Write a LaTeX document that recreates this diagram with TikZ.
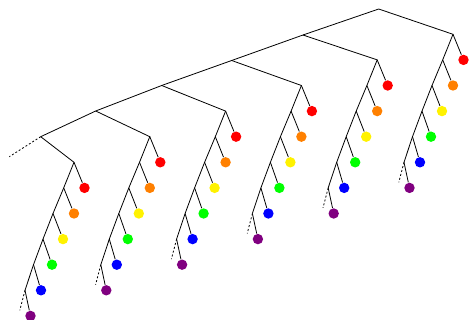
\documentclass[tikz,border=0pt]{standalone}
\begin{document}
\begin{tikzpicture}[x=0.75pt, y=-0.75pt, line width=0.6pt,
  leaf/.style={circle, inner sep=0pt, minimum size=7.8pt},
  cont/.style={dash pattern=on 1.5pt off 1.5pt}]
\useasboundingbox (0,0) rectangle (469,320);
% main spine
\coordinate (T0) at (378.7,9);
\coordinate (T1) at (303,35);
\coordinate (T2) at (231.7,60.5);
\coordinate (T3) at (161.7,85.5);
\coordinate (T4) at (95.7,111);
\coordinate (T5) at (40.7,136.7);
\coordinate (T6) at (9.3,156.7);
\draw (T0) -- (T1) -- (T2) -- (T3) -- (T4) -- (T5);
\draw[cont] (T5) -- (T6);
% one subtree per spine node
\foreach \i in {0,...,5} {
  \begin{scope}[shift={({453-75.8*\i},{34.3+25.6*\i})}]
    \coordinate (s\i-0) at (0,0);
    \coordinate (s\i-1) at (-10.3,25.6);
    \coordinate (s\i-2) at (-21,51.2);
    \coordinate (s\i-3) at (-31,76.8);
    \coordinate (s\i-4) at (-40.5,102.4);
    \coordinate (s\i-5) at (-49,128);
    \coordinate (d\i) at (-54.2,148);
    \draw (T\i) -- (s\i-0) -- (s\i-1) -- (s\i-2) -- (s\i-3) -- (s\i-4) -- (s\i-5);
    \draw[cont] (s\i-5) -- (d\i);
    \foreach \k/\lx/\c in {0/10.5/red, 1/0/orange, 2/-11/yellow, 3/-22/green, 4/-33/blue, 5/-43.5/violet} {
      \node[leaf, fill=\c] (l\i-\k) at (\lx,{25.6*(\k+1)}) {};
      \draw (s\i-\k) -- (l\i-\k);
    }
  \end{scope}
}
\end{tikzpicture}
\end{document}
